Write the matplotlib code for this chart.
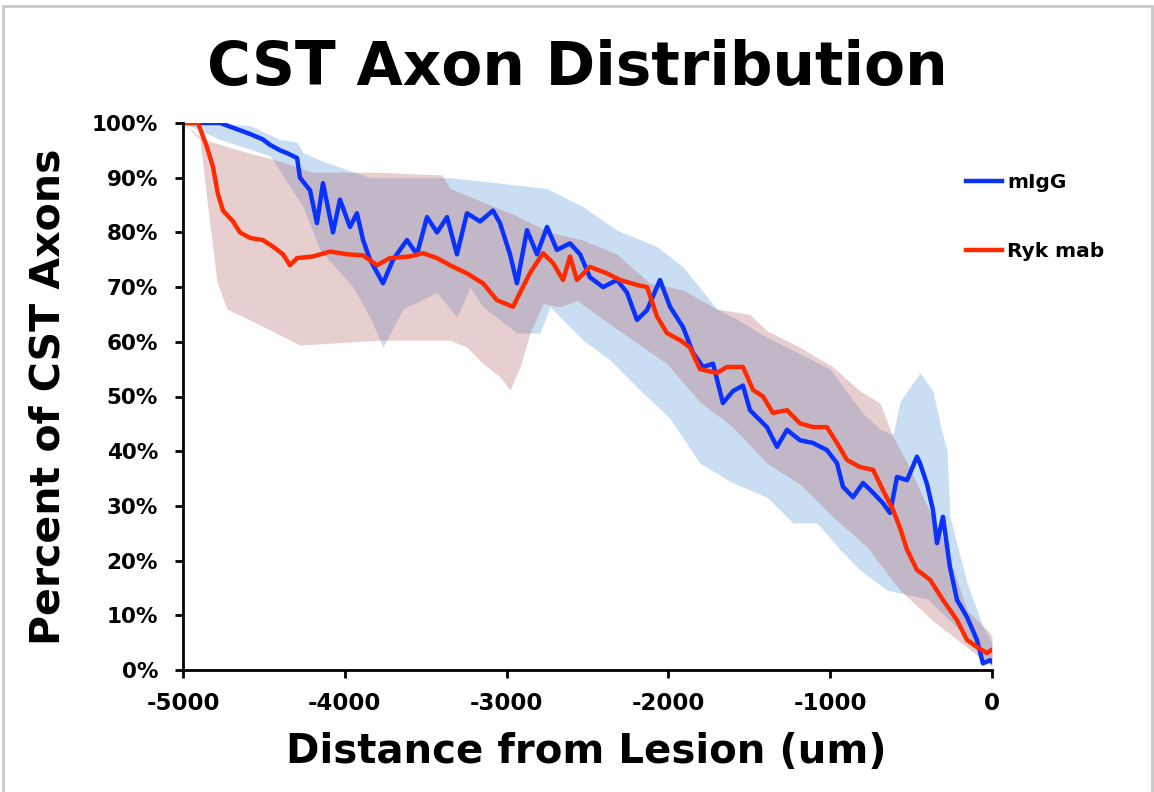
import numpy as np
import matplotlib
matplotlib.use('Agg')
import matplotlib.pyplot as plt
from matplotlib.patches import Rectangle

plt.rcParams['axes.unicode_minus'] = False

# mIgG mean curve (distance in um, percent of axons)
migg_x = np.array([-5000, -4771, -4586, -4506, -4462, -4400, -4357, -4295, -4277, -4215,
                   -4172, -4135, -4073, -4030, -3968, -3925, -3887, -3844, -3764, -3702,
                   -3616, -3554, -3492, -3430, -3368, -3307, -3245, -3164, -3084, -3041,
                   -2979, -2936, -2874, -2812, -2750, -2689, -2608, -2546, -2485, -2404,
                   -2318, -2256, -2194, -2132, -2052, -1990, -1910, -1848, -1786, -1724,
                   -1663, -1601, -1539, -1496, -1391, -1329, -1267, -1187, -1106, -1020,
                   -958, -921, -859, -797, -735, -674, -630, -587, -525, -464,
                   -445, -402, -365, -340, -303, -260, -216, -155, -93, -56, -12, 0])
migg_y = np.array([100, 100, 98, 97, 96, 95, 94.5, 93.6, 90, 87.7,
                   81.7, 89, 80, 86, 81, 83.5, 78.6, 75, 70.7, 75,
                   78.6, 76, 82.8, 80, 82.8, 76, 83.5, 82, 84, 81.7,
                   76, 70.7, 80.4, 76, 81, 76.8, 78, 76, 71.8, 70,
                   71.3, 69, 64, 65.8, 71.3, 66.4, 62.7, 58, 55.4, 56,
                   48.8, 51, 52, 47.5, 44.4, 40.8, 43.9, 42, 41.5, 40.2,
                   37.8, 33.5, 31.6, 34.2, 32.4, 30.5, 28.7, 35.3, 34.7, 39,
                   37.8, 34, 29.3, 23.2, 28, 18.8, 12.8, 9.7, 5.5, 1.2, 1.8, 1.5])

# mIgG error band
migg_band_x = np.array([-5000, -4771, -4586, -4400, -4295, -4258, -4135, -3844, -3350, -3041,
                        -2750, -2528, -2318, -2070, -1910, -1700, -1601, -1400, -1200, -1000,
                        -800, -692, -612, -569, -488, -445, -365, -321, -278, -260,
                        -155, -56, 0])
migg_hi = np.array([100, 100, 99.5, 97, 96.5, 94.6, 93, 90, 90, 89,
                    88, 84.7, 80.4, 77.4, 73.7, 66, 64.5, 61, 58, 55,
                    47, 44, 43, 49, 52.5, 54.3, 51, 45, 40, 28,
                    16, 7.9, 5])
migg_lo_x = np.array([-5000, -4771, -4462, -4258, -4153, -3949, -3844, -3764, -3640, -3430,
                      -3307, -3226, -3146, -2936, -2794, -2732, -2528, -2361, -2194, -1990,
                      -1805, -1601, -1391, -1230, -1082, -939, -816, -649, -400, -155, 0])
migg_lo = np.array([100, 97, 94, 84.7, 76.8, 70, 64.5, 59, 66, 69,
                    64.5, 70, 66.4, 61.6, 61.6, 66.4, 60.3, 56.7, 51.7, 46,
                    37.8, 34.2, 31.6, 26.9, 26.9, 22, 18.3, 14.6, 13, 6, 0.5])

# Ryk mab mean curve
ryk_x = np.array([-5000, -4907, -4876, -4852, -4815, -4784, -4753, -4691, -4648, -4586,
                  -4506, -4444, -4382, -4339, -4295, -4197, -4091, -3986, -3887, -3801,
                  -3721, -3597, -3517, -3430, -3350, -3245, -3146, -3059, -2960, -2917,
                  -2855, -2775, -2713, -2651, -2608, -2565, -2485, -2379, -2299, -2194,
                  -2132, -2070, -2009, -1928, -1867, -1805, -1700, -1638, -1539, -1477,
                  -1415, -1354, -1267, -1187, -1106, -1020, -958, -896, -816, -735,
                  -674, -612, -569, -525, -464, -383, -303, -216, -155, -93, -31, 0])
ryk_y = np.array([100, 100, 97.5, 95.6, 92, 87, 84, 82, 80, 79,
                  78.6, 77.4, 76, 74, 75.3, 75.6, 76.5, 76, 75.8, 74,
                  75.3, 75.6, 76.2, 75.3, 74, 72.5, 70.7, 67.6, 66.4, 69,
                  72.6, 76.2, 74.4, 71.3, 75.6, 71.3, 73.7, 72.5, 71.3, 70.4,
                  70, 64.6, 61.6, 60.3, 59, 55, 54.3, 55.4, 55.4, 51.2,
                  50, 47, 47.5, 45.1, 44.4, 44.4, 41.5, 38.4, 37.1, 36.6,
                  32.9, 29.3, 26, 22, 18.3, 16.5, 12.8, 9.1, 5.5, 4.2, 3.1, 3.7])

# Ryk mab error band
ryk_hi_x = np.array([-5000, -4876, -4650, -4400, -4200, -3800, -3400, -3350, -2936, -2732,
                     -2528, -2318, -2114, -1910, -1700, -1496, -1391, -1187, -983, -816,
                     -692, -612, -525, -402, -303, -155, -12, 0])
ryk_hi = np.array([100, 97, 95, 93, 91, 91, 90.5, 88, 83, 80,
                   78.6, 76, 70.7, 69.5, 66, 65, 62, 59, 55.4, 51,
                   48.8, 42.6, 38, 30, 24, 11, 6.8, 6])
ryk_lo_x = np.array([-5000, -4895, -4852, -4790, -4729, -4586, -4277, -3782, -3350, -3245,
                     -3146, -3041, -2979, -2917, -2855, -2775, -2670, -2565, -2423, -2219,
                     -2009, -1805, -1601, -1391, -1187, -983, -773, -569, -365, -155,
                     -56, 0])
ryk_lo = np.array([100, 97, 86, 71, 66, 64, 59.4, 60.3, 60.3, 59,
                   56, 53.6, 51.2, 55.4, 61.6, 67, 66.4, 67.6, 64.5, 60.3,
                   56, 49, 44.4, 37.8, 34, 28, 22.5, 14.6, 9, 4.2,
                   1.8, 1.5])

xticks = [-5000, -4000, -3000, -2000, -1000, 0]
yticks = [0, 10, 20, 30, 40, 50, 60, 70, 80, 90, 100]
ytick_labels = ['0%', '10%', '20%', '30%', '40%', '50%', '60%', '70%', '80%', '90%', '100%']

W, H = 1154, 792
fig = plt.figure(figsize=(W / 100, H / 100), dpi=100)
ax = fig.add_axes([183 / W, 1 - 670 / H, (992 - 183) / W, (670 - 123) / H])

# bands share one x grid per series so fill_between works
gx = np.union1d(migg_band_x, migg_lo_x)
ax.fill_between(gx, np.interp(gx, migg_lo_x, migg_lo), np.interp(gx, migg_band_x, migg_hi),
                color='#78aae1', alpha=0.4, lw=0)
rx = np.union1d(ryk_hi_x, ryk_lo_x)
ax.fill_between(rx, np.interp(rx, ryk_lo_x, ryk_lo), np.interp(rx, ryk_hi_x, ryk_hi),
                color='#b06060', alpha=0.3, lw=0)

ax.plot(migg_x, migg_y, color='#0a32ff', lw=3.2, label='mIgG')
ax.plot(ryk_x, ryk_y, color='#ff2a00', lw=3.2, label='Ryk mab')

ax.set_xlim(-5000, 0)
ax.set_ylim(0, 100)
ax.set_xticks(xticks)
ax.set_yticks(yticks)
ax.set_yticklabels(ytick_labels)
for s in ['top', 'right']:
    ax.spines[s].set_visible(False)
for s in ['left', 'bottom']:
    ax.spines[s].set_linewidth(2)
ax.tick_params(axis='both', direction='out', length=6, width=2)
ax.tick_params(axis='y', labelsize=15.5, pad=12)
ax.tick_params(axis='x', labelsize=16.5, pad=10)
for lab in ax.get_xticklabels() + ax.get_yticklabels():
    lab.set_fontweight('bold')

leg = ax.legend(loc='upper left', bbox_to_anchor=(966 / W, 1 - 173 / H),
                bbox_transform=fig.transFigure, frameon=False, borderpad=0,
                borderaxespad=0, handlelength=1.8, handletextpad=0.25,
                labelspacing=2.5, prop={'weight': 'bold', 'size': 14.5})

fig.text(0.5, 1 - 85 / H, 'CST Axon Distribution', ha='center', va='baseline',
         fontsize=43, fontweight='bold')
fig.text(586 / W, 1 - 763 / H, 'Distance from Lesion (um)', ha='center', va='baseline',
         fontsize=29, fontweight='bold')
fig.text(49 / W, 1 - 397 / H, 'Percent of CST Axons', ha='center', va='center',
         rotation=90, fontsize=29.5, fontweight='bold')

# slide frame
fig.patches.append(Rectangle((3 / W, -0.05), (1152 - 3) / W, 1.05 - 6 / H,
                             transform=fig.transFigure, fill=False,
                             edgecolor='#c8c8c8', lw=2))

fig.savefig('out.png', dpi=100)
